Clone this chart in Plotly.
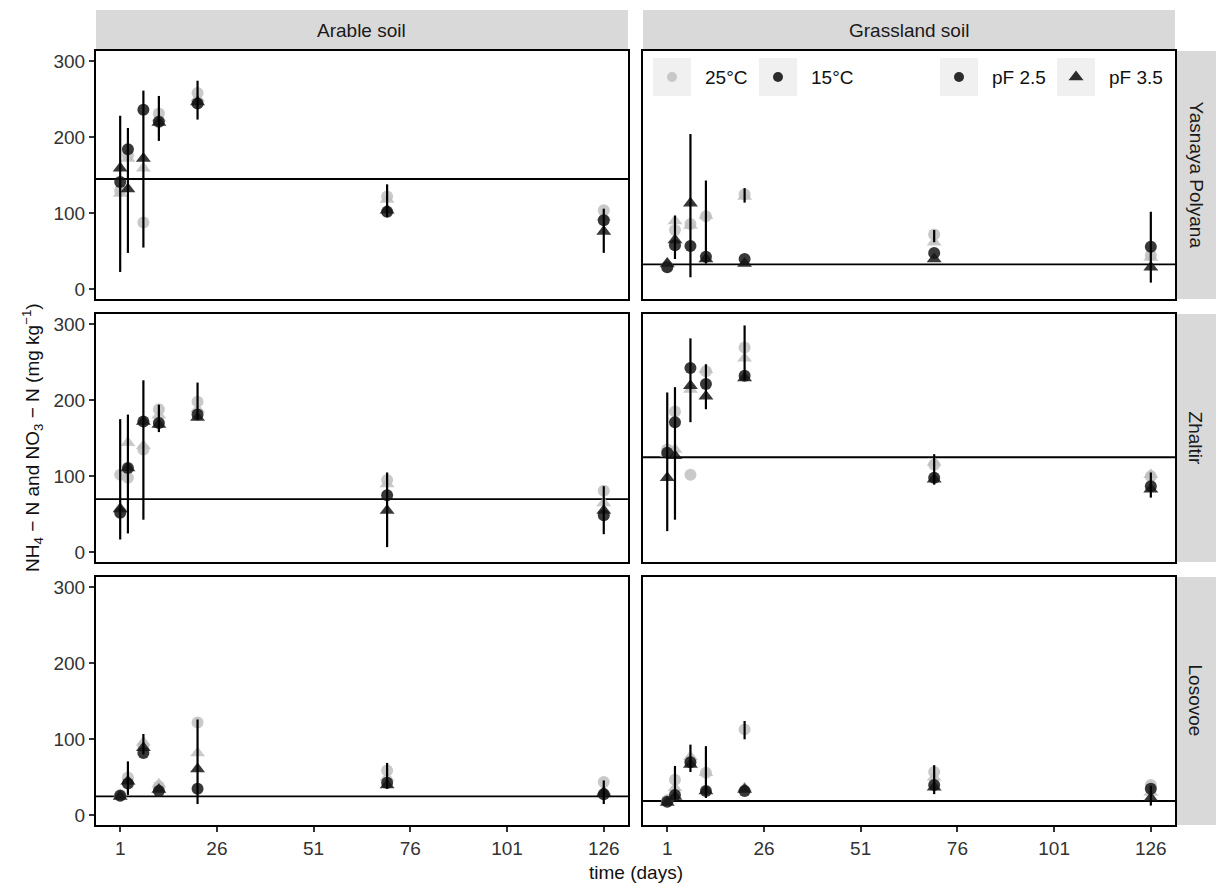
import math
import plotly.graph_objects as go

# ---------------- data ----------------
days = [1, 3, 7, 11, 21, 70, 126]
soils = ["Arable soil", "Grassland soil"]
sites = ["Yasnaya Polyana", "Zhaltir", "Losovoe"]
x_ticks = [1, 26, 51, 76, 101, 126]
y_ticks = [0, 100, 200, 300]
legend_temp = ["25°C", "15°C"]
legend_pf = ["pF 2.5", "pF 3.5"]

# Arable soil - Yasnaya Polyana
ar_yp_t25_pf25 = [130, 176, 88, 231, 258, 122, 104]
ar_yp_t25_pf35 = [126, 172, 159, 225, 251, 118, 95]
ar_yp_t15_pf25 = [141, 184, 236, 220, 244, 102, 91]
ar_yp_t15_pf35 = [159, 132, 172, 219, 246, 104, 76]
ar_yp_bar_lo = [23, 48, 55, 195, 223, 95, 48]
ar_yp_bar_hi = [228, 212, 261, 254, 274, 138, 106]
ar_yp_initial = 145

# Grassland soil - Yasnaya Polyana
gr_yp_t25_pf25 = [30, 78, 86, 96, 125, 72, 45]
gr_yp_t25_pf35 = [33, 90, 84, 97, 122, 62, 42]
gr_yp_t15_pf25 = [29, 58, 57, 43, 40, 48, 56]
gr_yp_t15_pf35 = [34, 65, 113, 40, 34, 40, 29]
gr_yp_bar_lo = [None, 40, 16, 34, 114, 62, 9]
gr_yp_bar_hi = [None, 97, 204, 143, 133, 78, 102]
gr_yp_initial = 33

# Arable soil - Zhaltir
ar_zh_t25_pf25 = [102, 98, 135, 188, 198, 95, 81]
ar_zh_t25_pf35 = [58, 144, 140, 180, 188, 90, 65]
ar_zh_t15_pf25 = [52, 111, 172, 170, 181, 75, 49]
ar_zh_t15_pf35 = [57, 111, 172, 168, 177, 55, 55]
ar_zh_bar_lo = [17, 25, 43, 158, 175, 7, 24]
ar_zh_bar_hi = [175, 181, 226, 194, 223, 105, 87]
ar_zh_initial = 70

# Grassland soil - Zhaltir
gr_zh_t25_pf25 = [135, 185, 102, 238, 269, 115, 100]
gr_zh_t25_pf35 = [130, 135, 214, 240, 255, 118, 102]
gr_zh_t15_pf25 = [131, 171, 242, 221, 232, 98, 87]
gr_zh_t15_pf35 = [98, 127, 219, 205, 229, 96, 83]
gr_zh_bar_lo = [28, 43, 171, 188, 226, 89, 72]
gr_zh_bar_hi = [210, 217, 281, 247, 298, 129, 105]
gr_zh_initial = 125

# Arable soil - Losovoe
ar_lo_t25_pf25 = [27, 50, 91, 38, 122, 59, 44]
ar_lo_t25_pf35 = [27, 45, 96, 41, 82, 50, 32]
ar_lo_t15_pf25 = [26, 42, 82, 32, 35, 43, 28]
ar_lo_t15_pf35 = [25, 45, 89, 34, 61, 40, 30]
ar_lo_bar_lo = [None, 27, 80, None, 15, 35, 15]
ar_lo_bar_hi = [None, 71, 107, None, 126, 69, 46]
ar_lo_initial = 25

# Grassland soil - Losovoe
gr_lo_t25_pf25 = [20, 47, 72, 56, 113, 57, 40]
gr_lo_t25_pf35 = [20, 36, 77, 56, 36, 50, 30]
gr_lo_t15_pf25 = [18, 27, 70, 32, 32, 40, 35]
gr_lo_t15_pf35 = [17, 25, 67, 32, 34, 37, 23]
gr_lo_bar_lo = [None, 21, 57, 23, 100, 28, 13]
gr_lo_bar_hi = [None, 65, 93, 91, 124, 66, 39]
gr_lo_initial = 19

panels = {
    (0, 0): (ar_yp_t25_pf25, ar_yp_t25_pf35, ar_yp_t15_pf25, ar_yp_t15_pf35, ar_yp_bar_lo, ar_yp_bar_hi, ar_yp_initial),
    (0, 1): (gr_yp_t25_pf25, gr_yp_t25_pf35, gr_yp_t15_pf25, gr_yp_t15_pf35, gr_yp_bar_lo, gr_yp_bar_hi, gr_yp_initial),
    (1, 0): (ar_zh_t25_pf25, ar_zh_t25_pf35, ar_zh_t15_pf25, ar_zh_t15_pf35, ar_zh_bar_lo, ar_zh_bar_hi, ar_zh_initial),
    (1, 1): (gr_zh_t25_pf25, gr_zh_t25_pf35, gr_zh_t15_pf25, gr_zh_t15_pf35, gr_zh_bar_lo, gr_zh_bar_hi, gr_zh_initial),
    (2, 0): (ar_lo_t25_pf25, ar_lo_t25_pf35, ar_lo_t15_pf25, ar_lo_t15_pf35, ar_lo_bar_lo, ar_lo_bar_hi, ar_lo_initial),
    (2, 1): (gr_lo_t25_pf25, gr_lo_t25_pf35, gr_lo_t15_pf25, gr_lo_t15_pf35, gr_lo_bar_lo, gr_lo_bar_hi, gr_lo_initial),
}

# ---------------- style / layout ----------------
W, H = 1216, 885
ML, MR, MT, MB = 96, 41, 51, 60
FONT = "Arial, Liberation Sans, sans-serif"
LIGHT = "rgba(192,192,192,0.85)"
DARK = "rgba(22,22,22,0.85)"
col_dom = [[0.0, 0.4930], [0.5070, 1.0]]
row_dom = [[0.6796, 1.0], [0.3398, 0.6602], [0.0, 0.3204]]

fig = go.Figure()
shapes = []
annotations = []
layout_axes = {}

for (r, c), (s1, s2, s3, s4, blo, bhi, init) in panels.items():
    k = r * 2 + c + 1
    xa = "x" if k == 1 else f"x{k}"
    ya = "y" if k == 1 else f"y{k}"
    series = [(s1, LIGHT, "circle", 12), (s2, LIGHT, "triangle-up", 13),
              (s3, DARK, "circle", 12), (s4, DARK, "triangle-up", 13)]
    for vals, col, sym, sz in series:
        fig.add_trace(go.Scatter(x=days, y=vals, mode="markers", xaxis=xa, yaxis=ya,
                                 marker=dict(color=col, symbol=sym, size=sz, line=dict(width=0)),
                                 showlegend=False, hoverinfo="skip"))
    mid, half = [], []
    for lo, hi in zip(blo, bhi):
        if lo is None:
            mid.append(math.nan); half.append(math.nan)
        else:
            mid.append((lo + hi) / 2); half.append((hi - lo) / 2)
    fig.add_trace(go.Scatter(x=days, y=mid, mode="markers", xaxis=xa, yaxis=ya,
                             marker=dict(size=1, opacity=0),
                             error_y=dict(type="data", array=half, symmetric=True,
                                          color="black", thickness=2.2, width=0),
                             showlegend=False, hoverinfo="skip"))
    shapes.append(dict(type="line", xref=f"{xa} domain", yref=ya, x0=0, x1=1, y0=init, y1=init,
                       line=dict(color="black", width=1.8), layer="below"))

    xkey = "xaxis" if k == 1 else f"xaxis{k}"
    ykey = "yaxis" if k == 1 else f"yaxis{k}"
    layout_axes[xkey] = dict(domain=col_dom[c], anchor=ya, range=[-5.25, 132.25],
                             tickvals=x_ticks, showticklabels=(r == 2),
                             ticks="outside" if r == 2 else "", ticklen=5, tickwidth=1.5,
                             tickcolor="#333333", tickfont=dict(size=19, color="#333333", family=FONT),
                             showline=True, mirror=True, linecolor="black", linewidth=2,
                             showgrid=False, zeroline=False)
    layout_axes[ykey] = dict(domain=row_dom[r], anchor=xa, range=[-12.5, 313],
                             tickvals=y_ticks, showticklabels=(c == 0),
                             ticks="outside" if c == 0 else "", ticklen=5, tickwidth=1.5,
                             tickcolor="#333333", tickfont=dict(size=19, color="#333333", family=FONT),
                             showline=True, mirror=True, linecolor="black", linewidth=2,
                             showgrid=False, zeroline=False)

# overlay axis in pixel units for the legend keys
layout_axes["xaxis7"] = dict(domain=[0, 1], anchor="y7", range=[ML, W - MR], visible=False, fixedrange=True)
layout_axes["yaxis7"] = dict(domain=[0, 1], anchor="x7", range=[H - MB, MT], visible=False, fixedrange=True)

key_boxes = [(653, 691), (759, 797), (940, 978), (1057, 1095)]
key_syms = [(LIGHT, "circle", 10), ("rgba(22,22,22,0.9)", "circle", 10),
            ("rgba(22,22,22,0.9)", "circle", 10), ("rgba(22,22,22,0.9)", "triangle-up", 13)]
key_labels = legend_temp + legend_pf
for (x0, x1), (col, sym, sz), lab in zip(key_boxes, key_syms, key_labels):
    shapes.append(dict(type="rect", xref="x7", yref="y7", x0=x0, x1=x1, y0=58, y1=96,
                       fillcolor="#F0F0F0", line=dict(width=0), layer="below"))
    fig.add_trace(go.Scatter(x=[(x0 + x1) / 2], y=[77], mode="markers", xaxis="x7", yaxis="y7",
                             marker=dict(color=col, symbol=sym, size=sz, line=dict(width=0)),
                             showlegend=False, hoverinfo="skip"))
    annotations.append(dict(text=lab, xref="x7", yref="y7", x=x1 + 12, y=77, xanchor="left",
                            yanchor="middle", showarrow=False,
                            font=dict(size=19, color="#111111", family=FONT)))

# strips
for c, soil in enumerate(soils):
    shapes.append(dict(type="rect", xref="paper", yref="paper", x0=col_dom[c][0], x1=col_dom[c][1],
                       y0=1.0013, y1=1.053, fillcolor="#D9D9D9", line=dict(width=0), layer="below"))
    annotations.append(dict(text=soil, xref="paper", yref="paper", x=sum(col_dom[c]) / 2, y=1.027,
                            xanchor="center", yanchor="middle", showarrow=False,
                            font=dict(size=19, color="#1A1A1A", family=FONT)))
for r, site in enumerate(sites):
    shapes.append(dict(type="rect", xref="paper", yref="paper", x0=1.0018, x1=1.038,
                       y0=row_dom[r][0], y1=row_dom[r][1], fillcolor="#D9D9D9",
                       line=dict(width=0), layer="below"))
    annotations.append(dict(text=site, xref="paper", yref="paper", x=1.0199, y=sum(row_dom[r]) / 2,
                            xanchor="center", yanchor="middle", textangle=90, showarrow=False,
                            font=dict(size=19, color="#1A1A1A", family=FONT)))

# axis titles
annotations.append(dict(text="time (days)", xref="paper", yref="paper", x=0.5, y=0, yshift=-47,
                        xanchor="center", yanchor="middle", showarrow=False,
                        font=dict(size=19, color="#111111", family=FONT)))
annotations.append(dict(text="NH<sub>4</sub> − N and NO<sub>3</sub> − N (mg kg<sup>−1</sup>)",
                        xref="paper", yref="paper", x=0, xshift=-64, y=0.5,
                        xanchor="center", yanchor="middle", textangle=-90, showarrow=False,
                        font=dict(size=19, color="#111111", family=FONT)))

fig.update_layout(width=W, height=H, margin=dict(l=ML, r=MR, t=MT, b=MB),
                  paper_bgcolor="white", plot_bgcolor="rgba(0,0,0,0)",
                  font=dict(family=FONT), showlegend=False,
                  shapes=shapes, annotations=annotations, **layout_axes)

fig.write_html("out.html")
